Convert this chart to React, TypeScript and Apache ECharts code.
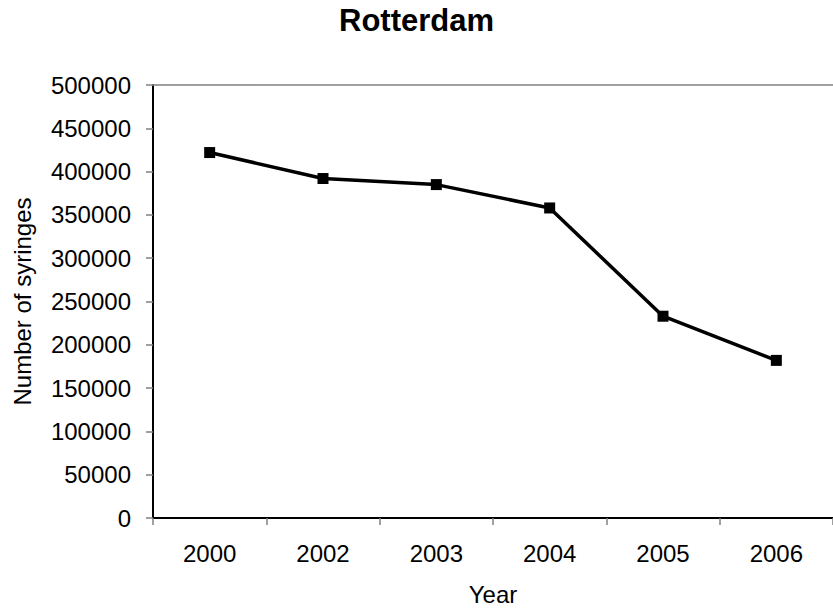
import React, { useEffect, useRef } from "react";
import * as echarts from "echarts";

const years = ["2000", "2002", "2003", "2004", "2005", "2006"];
const syringes = [422000, 392000, 385000, 358000, 233000, 182000];

const FONT = "'Liberation Sans', Arial, Helvetica, sans-serif";

export default function App() {
  const ref = useRef<HTMLDivElement>(null);

  useEffect(() => {
    if (!ref.current) return;
    const chart = echarts.init(ref.current, undefined, { renderer: "svg" });
    chart.setOption({
      animation: false,
      backgroundColor: "#ffffff",
      textStyle: { fontFamily: FONT, color: "#000" },
      title: {
        text: "Rotterdam",
        left: "center",
        top: 0,
        textStyle: { fontFamily: FONT, fontSize: 31, fontWeight: "bold", color: "#000" },
      },
      grid: {
        left: 153,
        width: 680,
        top: 85,
        bottom: 92,
        show: false,
        containLabel: false,
        outerBoundsMode: "none",
      },
      xAxis: [
        {
          type: "category",
          data: years,
          boundaryGap: true,
          name: "Year",
          nameLocation: "middle",
          nameGap: 64,
          nameTextStyle: { fontFamily: FONT, fontSize: 24, color: "#000" },
          axisLine: { show: true, lineStyle: { color: "#000", width: 2 } },
          axisTick: { show: true, alignWithLabel: false, length: 7, lineStyle: { color: "#808080", width: 1.5 } },
          axisLabel: { fontFamily: FONT, fontSize: 24, color: "#000", margin: 23 },
          splitLine: { show: false },
        },
        {
          // grey frame line along the top of the plot area
          type: "category",
          data: years,
          position: "top",
          axisLine: { show: true, lineStyle: { color: "#808080", width: 1.5 } },
          axisTick: { show: false },
          axisLabel: { show: false },
          splitLine: { show: false },
        },
      ],
      yAxis: {
        type: "value",
        min: 0,
        max: 500000,
        interval: 50000,
        name: "Number of syringes",
        nameLocation: "middle",
        nameRotate: 90,
        nameGap: 119,
        nameTextStyle: { fontFamily: FONT, fontSize: 24, color: "#000" },
        axisLine: { show: true, lineStyle: { color: "#000", width: 2 } },
        axisTick: { show: true, length: 7, lineStyle: { color: "#808080", width: 1.5 } },
        axisLabel: {
          fontFamily: FONT,
          fontSize: 24,
          color: "#000",
          margin: 22,
          formatter: (v: number) => String(v),
        },
        splitLine: { show: false },
      },
      series: [
        {
          type: "line",
          xAxisIndex: 0,
          data: syringes,
          symbol: "rect",
          symbolSize: 11,
          lineStyle: { color: "#000", width: 3.5 },
          itemStyle: { color: "#000" },
        },
      ],
    });
    return () => chart.dispose();
  }, []);

  return <div ref={ref} style={{ width: 833, height: 610, position: "absolute", left: 0, top: 0 }} />;
}
